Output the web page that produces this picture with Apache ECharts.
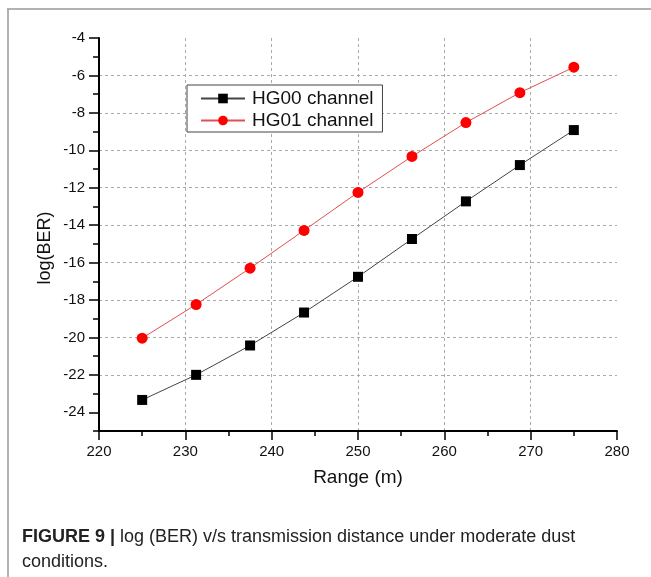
<!DOCTYPE html>
<html>
<head>
<meta charset="utf-8">
<script src="https://cdn.jsdelivr.net/npm/echarts@6/dist/echarts.min.js"></script>
<style>
  html, body { margin: 0; padding: 0; background: #fff; }
  #chart { width: 651px; height: 577px; }
</style>
</head>
<body>
<div id="chart"></div>
<script>
// ---- data ----
const rangeValues = [225, 231.25, 237.5, 243.75, 250, 256.25, 262.5, 268.75, 275];
const hg00 = [-23.34, -22.0, -20.43, -18.67, -16.76, -14.74, -12.73, -10.79, -8.92];
const hg01 = [-20.04, -18.24, -16.3, -14.28, -12.25, -10.33, -8.52, -6.92, -5.56];
const seriesNames = ['HG00 channel', 'HG01 channel'];
const yMajorTicks = [-24, -22, -20, -18, -16, -14, -12, -10, -8, -6, -4];
const yMinorTicks = [-25, -23, -21, -19, -17, -15, -13, -11, -9, -7, -5];
const xAxisTitle = 'Range (m)';
const yAxisTitle = 'log(BER)';
const captionBold = 'FIGURE 9 |';
const captionLine1 = ' log (BER) v/s transmission distance under moderate dust';
const captionLine2 = 'conditions.';

const FONT = '"Liberation Sans", Arial, Helvetica, sans-serif';
const chart = echarts.init(document.getElementById('chart'), null, { renderer: 'canvas' });

const pairs = (xs, ys) => xs.map((x, i) => [x, ys[i]]);
const gridLine = { show: true, showMinLine: false, showMaxLine: false, lineStyle: { color: '#aaa', width: 1, type: [3, 3] } };

const option = {
  backgroundColor: '#fff',
  animation: false,
  grid: { left: 99, top: 38, right: 34, bottom: 146, containLabel: false },
  legend: {
    orient: 'vertical',
    left: 187,
    top: 85,
    itemWidth: 44,
    itemHeight: 12,
    itemGap: 3,
    padding: [4, 9, 2, 13],
    borderColor: '#444',
    borderWidth: 1,
    backgroundColor: '#fff',
    textStyle: { fontFamily: FONT, fontSize: 19, color: '#111', padding: [0, 0, 0, 2] },
    data: seriesNames
  },
  xAxis: {
    type: 'value',
    min: 220, max: 280, interval: 10,
    name: xAxisTitle,
    nameLocation: 'middle',
    nameGap: 37,
    nameTextStyle: { fontFamily: FONT, fontSize: 19, color: '#111' },
    axisLine: { show: true, onZero: false, lineStyle: { color: '#000', width: 2 } },
    axisTick: { show: true, length: 9, lineStyle: { color: '#000', width: 1.5 } },
    minorTick: { show: true, splitNumber: 2, length: 5, lineStyle: { color: '#000', width: 1.5 } },
    axisLabel: { fontFamily: FONT, fontSize: 15, color: '#111', margin: 13 },
    splitLine: gridLine
  },
  yAxis: [
    {
      type: 'value',
      min: -25, max: -4, interval: 1,
      axisLine: { show: true, onZero: false, lineStyle: { color: '#000', width: 2 } },
      axisTick: { show: true, length: 10, customValues: yMajorTicks, lineStyle: { color: '#000', width: 1.5 } },
      axisLabel: { fontFamily: FONT, fontSize: 15, color: '#111', margin: 14, customValues: yMajorTicks },
      splitLine: gridLine
    },
    {
      type: 'value',
      min: -25, max: -4, interval: 1,
      position: 'left',
      axisLine: { show: false, onZero: false },
      axisTick: { show: true, length: 6, customValues: yMinorTicks, lineStyle: { color: '#000', width: 1.5 } },
      axisLabel: { show: false },
      splitLine: { show: false }
    }
  ],
  series: [
    {
      name: seriesNames[0],
      type: 'line',
      yAxisIndex: 0,
      data: pairs(rangeValues, hg00),
      symbol: 'rect',
      symbolSize: 10,
      itemStyle: { color: '#000' },
      lineStyle: { color: '#444', width: 1 }
    },
    {
      name: seriesNames[1],
      type: 'line',
      yAxisIndex: 0,
      data: pairs(rangeValues, hg01),
      symbol: 'circle',
      symbolSize: 11,
      itemStyle: { color: '#ff0000' },
      lineStyle: { color: '#e05050', width: 1 }
    }
  ],
  graphic: [
    { type: 'line', shape: { x1: 7, y1: 9, x2: 651, y2: 9 }, style: { stroke: '#999', lineWidth: 1.5 } },
    { type: 'line', shape: { x1: 8, y1: 9, x2: 8, y2: 577 }, style: { stroke: '#999', lineWidth: 1.5 } },
    {
      type: 'text', x: 45, y: 248, rotation: Math.PI / 2,
      style: { text: yAxisTitle, fontFamily: FONT, fontSize: 18, fill: '#111', align: 'center', verticalAlign: 'middle' }
    },
    {
      type: 'text', x: 22, y: 537,
      style: {
        text: '{b|' + captionBold + '}{r|' + captionLine1 + '}',
        verticalAlign: 'middle',
        rich: {
          b: { fontFamily: FONT, fontSize: 18, fontWeight: 'bold', fill: '#222' },
          r: { fontFamily: FONT, fontSize: 18, fill: '#222' }
        }
      }
    },
    {
      type: 'text', x: 22, y: 562,
      style: { text: captionLine2, fontFamily: FONT, fontSize: 18, fill: '#222', verticalAlign: 'middle' }
    }
  ]
};
chart.setOption(option);
</script>
</body>
</html>
